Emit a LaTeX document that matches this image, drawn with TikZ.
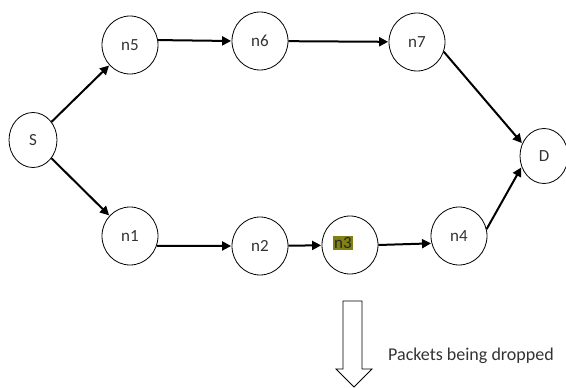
\documentclass[tikz,border=0pt]{standalone}
\usepackage{fontspec}
\setmainfont{Carlito}
\usetikzlibrary{shapes.geometric,arrows.meta}
\definecolor{hilite}{RGB}{128,128,20}
\tikzset{
  nd/.style={ellipse,draw,line width=0.8pt,minimum width=56pt,minimum height=58pt,inner sep=0pt,font=\fontsize{17}{17}\selectfont,text=black!80},
  sm/.style={nd,minimum width=48pt,minimum height=55pt},
  ar/.style={line width=2pt,-{Triangle[length=9pt,width=9pt]},shorten >=0.5pt}
}
\begin{document}
\begin{tikzpicture}[x=1pt,y=-1pt]
\useasboundingbox (0,0) rectangle (566,388);
\node[sm] (s) at (33,140) {S};
\node[nd] (n5) at (130,45) {n5};
\node[nd] (n6) at (260,41) {n6};
\node[nd] (n7) at (417,42) {n7};
\node[sm] (d) at (544,156) {D};
\node[nd] (n1) at (130,236) {n1};
\node[nd] (n2) at (260,246) {n2};
\node[nd] (n3) at (350,245) {};
\node[fill=hilite,inner sep=1pt,font=\fontsize{17}{17}\selectfont,text=black!85] (n3t) at (343,243) {n3};
\node[nd] (n4) at (459,236) {n4};
\draw[ar] (s) -- (n5);
\draw[ar] (s) -- (n1);
\draw[ar] (n5.10) -- (n6.west);
\draw[ar] (n6) -- (n7);
\draw[ar] (n7.-20) -- (d.150);
\draw[ar] (n1.-20) -- (n2.west);
\draw[ar] (n2) -- (n3);
\draw[ar] (n3.east) -- (n4.-165);
\draw[ar] (n4.14) -- (d.-154);
\coordinate (at) at (354,301);
\draw[line width=0.8pt] (343,301) -- (343,369) -- (336,369) -- (354,387) -- (372,369) -- (362,369) -- (362,301) -- cycle;
\node[anchor=west,font=\fontsize{18}{18}\selectfont,text=black!80,inner sep=0pt] (lbl) at (388,356) {Packets being dropped};
\end{tikzpicture}
\end{document}
